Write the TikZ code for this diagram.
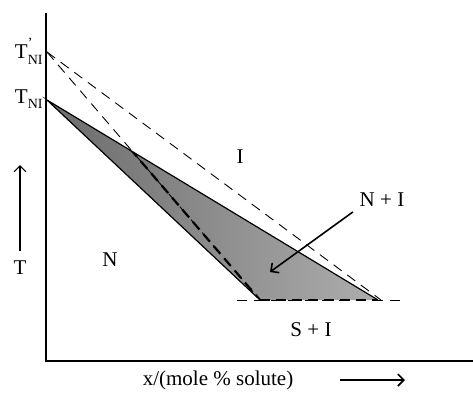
\documentclass[tikz,border=0pt]{standalone}
\usepackage{fontspec}
\setmainfont{Liberation Serif}
\usetikzlibrary{arrows.meta}
\newcommand\tlabel[1]{T\makebox[0pt][l]{\raisebox{1.2ex}{\scriptsize#1}}\raisebox{-0.55ex}{\scriptsize NI}}

\begin{document}
\begin{tikzpicture}[
  x=0.5pt, y=-0.5pt,
  font=\fontsize{10.5}{12}\selectfont,
  lbl/.style={inner sep=0pt},
  axis/.style={line width=0.9pt},
  guide/.style={line width=0.45pt, dash pattern=on 5pt off 3.5pt},
  heavy/.style={line width=1.1pt, dash pattern=on 5pt off 3pt},
  pointer/.style={-{Straight Barb[length=3pt, width=6pt]}, line width=0.8pt},
]
\useasboundingbox (0,0) rectangle (473,402);
\coordinate (top) at (46,13);
\coordinate (origin) at (46,361);
\coordinate (xend) at (473,361);
\coordinate (tni) at (47,100);
\coordinate (tnip) at (47,52);
\coordinate (sl) at (260,300);
\coordinate (sr) at (378,300);
\coordinate (hl) at (237,300);
\coordinate (hr) at (405,300);
\coordinate (ro) at (381,300);

% two-phase region N + I
\shade[left color=black!58, right color=black!32] (tni) -- (sr) -- (sl) -- cycle;
\draw[line width=0.6pt] (sl) -- (tni) -- (sr);
\draw[guide] (hl) -- (hr);
\draw[heavy] (sl) -- (sr);
\draw[guide] (tnip) -- (ro);
\draw[guide] (tnip) -- (sl);
\begin{scope}
  \clip (tni) -- (sr) -- (sl) -- cycle;
  \draw[heavy] (tnip) -- (sl);
\end{scope}
\draw[axis] (top) -- (origin) -- (xend);

% labels
\node[lbl, anchor=east] (tniplab) at (43,51) {\tlabel{'}};
\node[lbl, anchor=east] (tnilab) at (43,99) {\tlabel{}};
\node[lbl] (tlab) at (20,268) {T};
\coordinate (ttip) at (20,165);
\draw[pointer, line width=0.55pt, shorten <=5pt] (tlab.north) -- (ttip);
\node[lbl] (nreg) at (110,260) {N};
\node[lbl] (ireg) at (240,157) {I};
\node[lbl] (sireg) at (311,330) {S + I};
\node[lbl] (nireg) at (382,200) {N + I};
\coordinate (nitip) at (270,272);
\draw[pointer, shorten <=4pt] (nireg.south west) -- (nitip);
\node[lbl] (xlab) at (218,380) {x/(mole \% solute)};
\coordinate (xtail) at (340,380);
\coordinate (xtip) at (405,380);
\draw[pointer] (xtail) -- (xtip);
\end{tikzpicture}
\end{document}
